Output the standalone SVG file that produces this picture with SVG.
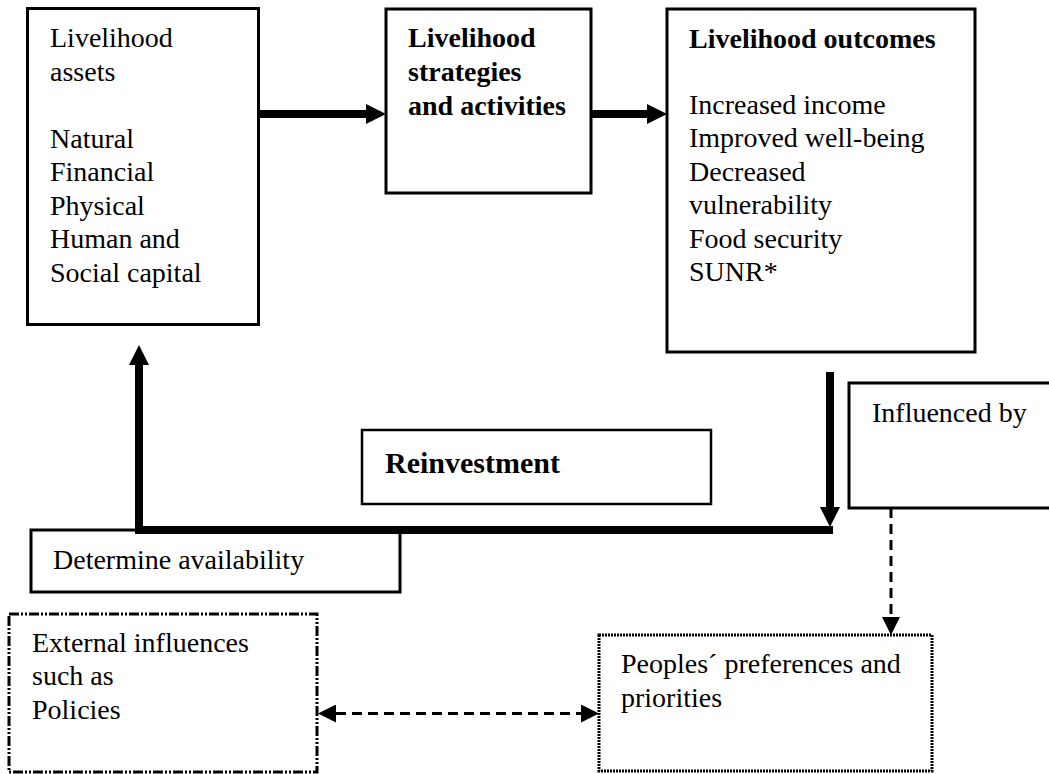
<svg xmlns="http://www.w3.org/2000/svg" width="1049" height="774" viewBox="0 0 1049 774">
<style>
.box{fill:#fff;stroke:#000;stroke-width:3}
.t{font-size:28px;fill:#000}
.b{font-weight:bold}
.thick{fill:none;stroke:#000;stroke-width:8;stroke-linejoin:miter}
.dash{fill:none;stroke:#000;stroke-width:3;stroke-dasharray:10 6}
</style>
<defs>
<marker id="big" viewBox="0 0 20 20" refX="0" refY="10" markerWidth="20" markerHeight="20" markerUnits="userSpaceOnUse" orient="auto-start-reverse">
<path d="M0,0 L20,10 L0,20 Z" fill="#000"/>
</marker>
<marker id="small" viewBox="0 0 18 18" refX="0" refY="9" markerWidth="18" markerHeight="18" markerUnits="userSpaceOnUse" orient="auto-start-reverse">
<path d="M0,0 L18,9 L0,18 Z" fill="#000"/>
</marker>
</defs>
<rect width="1049" height="774" fill="#fff"/>
<g font-family="Liberation Serif, Times New Roman, serif">
<g id="assets">
<rect class="box" x="27.5" y="8.5" width="231" height="316"/>
<text class="t" x="50" y="47">Livelihood</text>
<text class="t" x="50" y="80.5">assets</text>
<text class="t" x="50" y="147.5">Natural</text>
<text class="t" x="50" y="181">Financial</text>
<text class="t" x="50" y="214.5">Physical</text>
<text class="t" x="50" y="248">Human and</text>
<text class="t" x="50" y="281.5">Social capital</text>
</g>

<g id="strategies">
<rect class="box" x="386" y="9" width="205" height="184"/>
<text class="t b" x="408" y="47">Livelihood</text>
<text class="t b" x="408" y="81">strategies</text>
<text class="t b" x="408" y="115">and activities</text>
</g>

<g id="outcomes">
<rect class="box" x="667" y="9" width="308" height="343"/>
<text class="t b" x="689" y="48">Livelihood outcomes</text>
<text class="t" x="689" y="113.5">Increased income</text>
<text class="t" x="689" y="147">Improved well-being</text>
<text class="t" x="689" y="180.5">Decreased</text>
<text class="t" x="689" y="214">vulnerability</text>
<text class="t" x="689" y="247.5">Food security</text>
<text class="t" x="689" y="281">SUNR*</text>
</g>

<g id="reinvestment">
<rect class="box" x="362" y="430" width="349" height="74" style="stroke-width:2.5"/>
<text class="t b" x="385" y="473" style="font-size:30px">Reinvestment</text>
</g>

<g id="influenced">
<rect class="box" x="849" y="383" width="215" height="125"/>
<text class="t" x="872" y="422">Influenced by</text>
</g>

<g id="determine">
<rect class="box" x="31" y="530" width="369" height="62"/>
<text class="t" x="53" y="569">Determine availability</text>
</g>

<g id="external">
<rect class="box" x="9" y="614" width="308" height="158" style="stroke-dasharray:10 2 2 2 2 2"/>
<text class="t" x="32" y="652">External influences</text>
<text class="t" x="32" y="685">such as</text>
<text class="t" x="32" y="719">Policies</text>
</g>

<g id="peoples">
<rect class="box" x="599" y="635" width="333" height="136" style="stroke-dasharray:2 1"/>
<text class="t" x="621" y="673">Peoples´ preferences and</text>
<text class="t" x="621" y="707">priorities</text>
</g>
</g>
<g id="connectors">
<line class="thick" x1="259" y1="114" x2="366" y2="114" marker-end="url(#big)"/>
<line class="thick" x1="591" y1="114" x2="647" y2="114" marker-end="url(#big)"/>
<line class="thick" x1="830" y1="372" x2="830" y2="507" marker-end="url(#big)"/>
<path class="thick" d="M833,530 H139 V365" marker-end="url(#big)"/>
<line class="dash" x1="891" y1="508" x2="891" y2="617" marker-end="url(#small)"/>
<line class="dash" x1="336" y1="713.5" x2="581" y2="713.5" marker-start="url(#small)" marker-end="url(#small)"/>
</g>
</svg>
